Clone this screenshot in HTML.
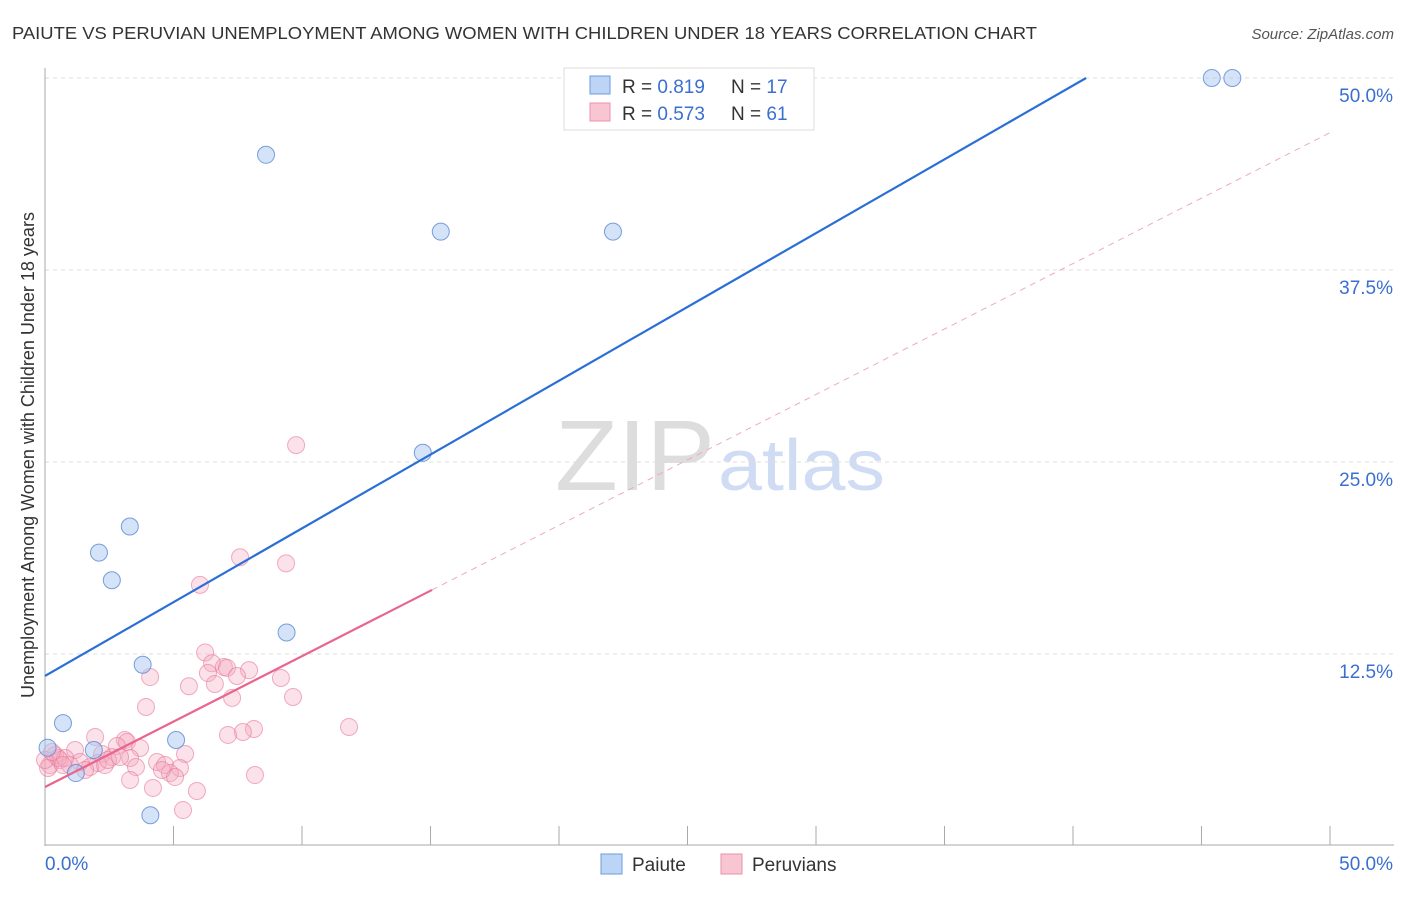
<!DOCTYPE html>
<html><head><meta charset="utf-8"><style>
body{margin:0;background:#fff;font-family:"Liberation Sans",sans-serif;}
svg text{font-family:"Liberation Sans",sans-serif;}
</style></head><body>
<svg id="chart" width="1406" height="892" xmlns="http://www.w3.org/2000/svg">
<text x="12" y="39" font-size="17.5" fill="#333" textLength="1025" lengthAdjust="spacingAndGlyphs">PAIUTE VS PERUVIAN UNEMPLOYMENT AMONG WOMEN WITH CHILDREN UNDER 18 YEARS CORRELATION CHART</text>
<text x="1394" y="39" font-size="15" fill="#555" font-style="italic" text-anchor="end">Source: ZipAtlas.com</text>
<text x="555" y="490" font-size="100" fill="#ddd" font-family="Liberation Serif" textLength="160" lengthAdjust="spacingAndGlyphs">ZIP</text>
<text x="718" y="490" font-size="72" fill="#cfdcf3" textLength="167" lengthAdjust="spacingAndGlyphs">atlas</text>
<g id="grid"></g><g id="axes"></g><g id="marks"></g>
<text transform="translate(34,455) rotate(-90)" font-size="18" fill="#333" text-anchor="middle">Unemployment Among Women with Children Under 18 years</text>
<g>
<rect x="564" y="68" width="250" height="62" fill="#fff" stroke="#ddd"/>
<rect x="590" y="76" width="20" height="18" fill="#bcd4f5" stroke="#6d9be0"/>
<text x="622" y="93" font-size="19" fill="#333">R = <tspan fill="#3a6fd0">0.819</tspan></text>
<text x="731" y="93" font-size="19" fill="#333">N = <tspan fill="#3a6fd0">17</tspan></text>
<rect x="590" y="103" width="20" height="18" fill="#f8c6d3" stroke="#ec8fa9"/>
<text x="622" y="120" font-size="19" fill="#333">R = <tspan fill="#3a6fd0">0.573</tspan></text>
<text x="731" y="120" font-size="19" fill="#333">N = <tspan fill="#3a6fd0">61</tspan></text>
</g>
<g>
<rect x="601" y="854" width="21" height="20" fill="#bcd4f5" stroke="#6d9be0"/>
<text x="632" y="871" font-size="19" fill="#333">Paiute</text>
<rect x="721" y="854" width="21" height="20" fill="#f8c6d3" stroke="#ec8fa9"/>
<text x="752" y="871" font-size="19" fill="#333">Peruvians</text>
</g>
</svg>
<script>
const yTicks=[12.5,25,37.5,50];
const yTickLabels=["12.5%","25.0%","37.5%","50.0%"];
const xTicks=[0,5,10,15,20,25,30,35,40,45,50];
const paiuteX=[8.6,15.4,22.1,14.7,3.3,2.1,2.6,9.4,3.8,0.7,5.1,1.9,0.1,1.2,4.1,45.4,46.2];
const paiuteY=[45.0,40.0,40.0,25.6,20.8,19.1,17.3,13.9,11.8,8.0,6.9,6.25,6.4,4.75,2.0,50,50];
const peruX=[9.77,7.59,9.38,6.03,6.23,6.50,6.96,7.08,7.94,7.47,6.34,4.09,5.60,6.61,9.18,7.28,9.65,3.93,11.83,8.13,7.70,7.12,1.95,3.11,3.19,3.70,2.80,5.45,1.17,2.22,3.31,2.61,0.39,0.58,1.36,2.06,2.33,0.19,0.12,0.97,1.75,3.54,4.36,4.67,5.25,4.86,5.06,0.51,0.78,1.56,3.31,4.20,5.91,5.37,8.17,2.45,2.92,0.0,0.27,4.55,0.70];
const peruY=[26.1,18.8,18.4,17.0,12.6,11.9,11.65,11.6,11.45,11.07,11.26,11.0,10.4,10.55,10.94,9.64,9.70,9.05,7.75,7.62,7.42,7.23,7.10,6.90,6.77,6.38,6.51,5.99,6.25,5.99,5.73,5.79,5.92,5.60,5.47,5.40,5.27,5.27,5.08,5.27,5.14,5.14,5.47,5.27,5.08,4.75,4.49,5.73,5.73,4.95,4.30,3.78,3.58,2.34,4.62,5.60,5.79,5.60,6.12,4.95,5.27];
const paiuteLine=[11.07,0.961];
const peruLine=[3.84,0.852];
const X=v=>45+v*25.7, Y=v=>846-v*15.36;
const NS="http://www.w3.org/2000/svg";
function mk(parent,tag,attrs){const e=document.createElementNS(NS,tag);for(const k in attrs)e.setAttribute(k,attrs[k]);document.getElementById(parent).appendChild(e);return e;}
yTicks.forEach((t,i)=>{
 const g=mk('grid','line',{x1:45,x2:1394,y1:Y(t),y2:Y(t),stroke:'#ddd','stroke-dasharray':'4,4'});
 
 
 const tx=mk('grid','text',{x:1393,y:Y(t)+24,'font-size':19,fill:'#3a6fd0','text-anchor':'end'});
 tx.textContent=yTickLabels[i];
 
 
});
const ya=mk('axes','line',{x1:45,x2:45,y1:68,y2:846,stroke:'#aaa'});


const xa=mk('axes','line',{x1:45,x2:1394,y1:845,y2:845,stroke:'#aaa'});


xTicks.forEach(t=>{
 const l=mk('axes','line',{x1:X(t),x2:X(t),y1:826,y2:845,stroke:'#aaa'});
 
 
});
const xl0=mk('axes','text',{x:45,y:870,'font-size':19,fill:'#3a6fd0'});xl0.textContent='0.0%';


const xl1=mk('axes','text',{x:1393,y:870,'font-size':19,fill:'#3a6fd0','text-anchor':'end'});xl1.textContent='50.0%';


peruX.forEach((v,i)=>{
 const c=mk('marks','circle',{cx:X(v),cy:Y(peruY[i]),r:8.5,fill:'rgba(244,170,192,0.35)',stroke:'rgba(232,120,152,0.6)','stroke-width':1});
 
 
});
paiuteX.forEach((v,i)=>{
 const c=mk('marks','circle',{cx:X(v),cy:Y(paiuteY[i]),r:8.5,fill:'rgba(170,200,240,0.5)',stroke:'rgba(80,130,210,0.75)','stroke-width':1});
 
 
});
const xEnd=(50-paiuteLine[0])/paiuteLine[1];
const bl=mk('marks','line',{x1:X(0),y1:Y(paiuteLine[0]),x2:X(xEnd),y2:Y(50),stroke:'#2a6fd6','stroke-width':2.2});


const pl=mk('marks','line',{x1:X(0),y1:Y(peruLine[0]),x2:X(15.06),y2:Y(peruLine[0]+peruLine[1]*15.06),stroke:'#e8658f','stroke-width':2.2});


const pd=mk('marks','line',{x1:X(15.06),y1:Y(peruLine[0]+peruLine[1]*15.06),x2:X(50),y2:Y(peruLine[0]+peruLine[1]*50),stroke:'#eeaabd','stroke-width':1,'stroke-dasharray':'6,5'});


</script>
</body></html>
